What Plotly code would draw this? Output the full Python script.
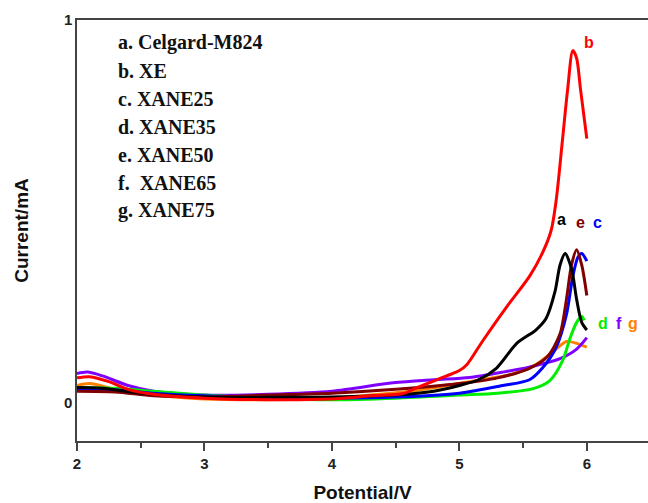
import plotly.graph_objects as go

# ---- data ----
a_V = [2.0, 2.2, 2.5, 3.0, 3.5, 4.0, 4.5, 4.8, 5.0, 5.15, 5.29, 5.45, 5.6, 5.68, 5.75, 5.79, 5.83, 5.88, 5.92, 5.96, 6.0]
a_I = [0.04, 0.038, 0.025, 0.015, 0.014, 0.015, 0.02, 0.03, 0.045, 0.06, 0.09, 0.155, 0.19, 0.22, 0.29, 0.36, 0.39, 0.35, 0.27, 0.21, 0.19]

b_V = [2.0, 2.1, 2.25, 2.4, 2.6, 3.0, 3.5, 4.0, 4.3, 4.56, 4.67, 4.9, 5.0, 5.06, 5.18, 5.37, 5.55, 5.65, 5.72, 5.76, 5.81, 5.85, 5.89, 5.92, 5.95, 6.0]
b_I = [0.065, 0.068, 0.055, 0.035, 0.022, 0.012, 0.008, 0.01, 0.018, 0.024, 0.04, 0.07, 0.084, 0.10, 0.16, 0.25, 0.33, 0.39, 0.45, 0.53, 0.69, 0.82, 0.92, 0.90, 0.82, 0.69]

c_V = [2.0, 2.3, 2.6, 3.0, 3.5, 4.0, 4.5, 5.0, 5.34, 5.55, 5.65, 5.76, 5.84, 5.89, 5.93, 5.96, 6.0]
c_I = [0.035, 0.033, 0.025, 0.018, 0.013, 0.012, 0.015, 0.025, 0.045, 0.06, 0.09, 0.145, 0.23, 0.33, 0.38, 0.39, 0.37]

d_V = [2.0, 2.3, 2.6, 3.0, 3.5, 4.0, 4.5, 5.0, 5.3, 5.58, 5.71, 5.81, 5.87, 5.92, 5.96, 5.98]
d_I = [0.04, 0.038, 0.03, 0.02, 0.012, 0.008, 0.012, 0.02, 0.025, 0.037, 0.058, 0.11, 0.17, 0.21, 0.225, 0.215]

e_V = [2.0, 2.3, 2.6, 3.0, 3.5, 4.0, 4.5, 5.0, 5.3, 5.55, 5.69, 5.79, 5.84, 5.88, 5.92, 5.96, 6.0]
e_I = [0.03, 0.028, 0.018, 0.015, 0.02, 0.025, 0.035, 0.05, 0.065, 0.09, 0.12, 0.18, 0.27, 0.36, 0.40, 0.36, 0.28]

f_V = [2.0, 2.08, 2.2, 2.4, 2.6, 3.0, 3.5, 4.0, 4.48, 4.8, 5.08, 5.34, 5.6, 5.79, 5.92, 6.0]
f_I = [0.076, 0.08, 0.07, 0.045, 0.03, 0.02, 0.022, 0.03, 0.052, 0.06, 0.066, 0.08, 0.097, 0.115, 0.14, 0.17]

g_V = [2.0, 2.1, 2.3, 2.6, 3.0, 3.5, 4.0, 4.3, 4.61, 4.9, 5.22, 5.42, 5.6, 5.74, 5.84, 5.92, 6.0]
g_I = [0.045, 0.05, 0.035, 0.02, 0.01, 0.008, 0.012, 0.02, 0.03, 0.045, 0.063, 0.075, 0.10, 0.135, 0.16, 0.155, 0.145]

legend_lines = ["a. Celgard-M824", "b. XE", "c. XANE25", "d. XANE35", "e. XANE50", "f.  XANE65", "g. XANE75"]

curve_labels = ["a", "e", "c", "b", "d", "f", "g"]
label_V = [5.80, 5.95, 6.08, 6.02, 6.13, 6.25, 6.36]
label_I = [0.48, 0.47, 0.47, 0.94, 0.207, 0.207, 0.207]

colors = {"a": "#000000", "b": "#ff0000", "c": "#0000ff", "d": "#00ee00",
          "e": "#800000", "f": "#8000ff", "g": "#ff8000"}

series = [("g", g_V, g_I), ("f", f_V, f_I), ("d", d_V, d_I), ("c", c_V, c_I),
          ("e", e_V, e_I), ("a", a_V, a_I), ("b", b_V, b_I)]

fig = go.Figure()
for key, xs, ys in series:
    fig.add_trace(go.Scatter(x=xs, y=ys, mode="lines",
                             line=dict(color=colors[key], width=3, shape="spline", smoothing=0.8),
                             showlegend=False, hoverinfo="skip"))

annotations = []
for i, txt in enumerate(legend_lines):
    annotations.append(dict(text=txt, xref="paper", yref="paper", x=(116 - 77) / 571,
                            y=1 - (43 - 20 + i * 28.0) / 421, xanchor="left", yanchor="middle",
                            showarrow=False,
                            font=dict(family="Liberation Serif, Times New Roman, serif", size=20,
                                      color="#111111", weight="bold")))
for lab, vx, iy in zip(curve_labels, label_V, label_I):
    annotations.append(dict(text=lab, x=vx, y=iy, xref="x", yref="y", showarrow=False,
                            xanchor="center", yanchor="middle",
                            font=dict(family="Liberation Sans, Arial, sans-serif", size=16,
                                      color=colors[lab], weight="bold")))

fig.update_layout(
    width=648, height=503,
    margin=dict(l=77, r=0, t=20, b=62),
    plot_bgcolor="white", paper_bgcolor="white",
    annotations=annotations,
    xaxis=dict(range=[2, 6.48], tickvals=[2, 3, 4, 5, 6], ticks="outside", ticklen=8,
               tickwidth=1.5, tickcolor="#444444",
               minor=dict(tickvals=[2.5, 3.5, 4.5, 5.5, 6.5], ticks="outside", ticklen=5,
                          tickwidth=1.5, tickcolor="#444444"),
               showline=True, linecolor="#444444", linewidth=1.5, mirror=True,
               showgrid=False, zeroline=False,
               tickfont=dict(family="Liberation Sans, Arial, sans-serif", size=15, color="#222222", weight="bold"),
               title=dict(text="Potential/V", standoff=16,
                          font=dict(family="Liberation Sans, Arial, sans-serif", size=19, color="#111111", weight="bold"))),
    yaxis=dict(range=[-0.1, 1.0], tickvals=[0, 1], ticks="", showline=True,
               linecolor="#444444", linewidth=1.5, showgrid=False, zeroline=False,
               tickfont=dict(family="Liberation Sans, Arial, sans-serif", size=15, color="#222222", weight="bold"),
               title=dict(text="Current/mA", standoff=30,
                          font=dict(family="Liberation Sans, Arial, sans-serif", size=19, color="#111111", weight="bold"))),
)

fig.write_html("out.html")
